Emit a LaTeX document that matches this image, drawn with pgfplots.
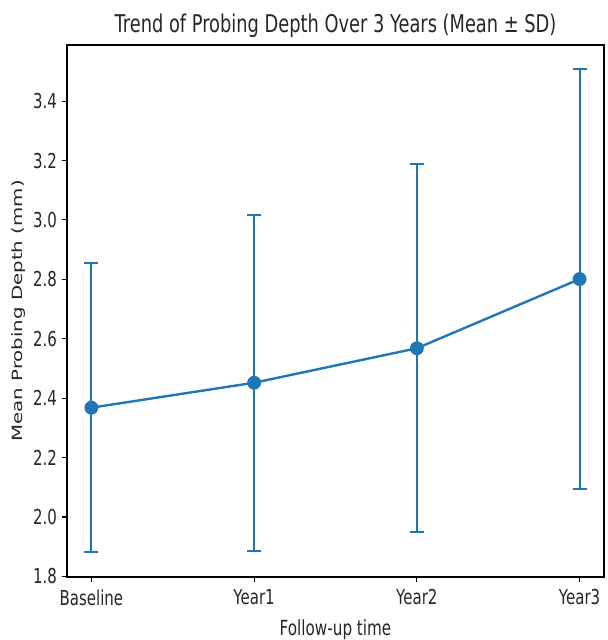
\documentclass[border=0pt]{standalone}
\usepackage{pgfplots}
\pgfplotsset{compat=1.18}
\usetikzlibrary{calc}
\usepackage{fontspec}
\setmainfont{DejaVu Sans}[FakeStretch=0.73]
\newfontfamily\ylfont{DejaVu Sans}[FakeStretch=1.4]
\definecolor{tabblue}{HTML}{1F77B4}
\definecolor{txt}{HTML}{262626}
\begin{document}
\begin{tikzpicture}
\begin{axis}[
  name=a,
  scale only axis,
  width=402.75pt, height=399pt,
  xmin=-0.15, xmax=3.15,
  ymin=1.798, ymax=3.589,
  xtick={0,1,2,3},
  xticklabels={Baseline,Year1,Year2,Year3},
  ytick={1.8,2.0,2.2,2.4,2.6,2.8,3.0,3.2,3.4},
  yticklabel style={/pgf/number format/.cd,fixed,fixed zerofill,precision=1},
  /pgf/number format/assume math mode=true,
  tick label style={font=\fontsize{15.4}{17}\selectfont, text=txt},
  xticklabel style={yshift=-2pt},
  tick align=outside,
  tick pos=left,
  major tick length=4pt,
  major tick style={line width=0.8pt, color=black},
  axis line style={line width=0.8pt},
  title={Trend of Probing Depth Over 3 Years (Mean ± SD)},
  title style={font=\fontsize{18.3}{20}\selectfont, text=txt, yshift=-4pt},
  xlabel={Follow-up time},
  xlabel style={font=\fontsize{15.6}{17}\selectfont, text=txt, yshift=-4pt},
  ylabel={\ylfont Mean Probing Depth (mm)},
  ylabel style={font=\fontsize{10.6}{14}\selectfont, text=txt, yshift=-1pt},
]
\addplot[
  color=tabblue, line width=1.8pt,
  mark=*, mark size=4.3pt,
  error bars/.cd, y dir=both, y explicit,
  error bar style={line width=1.5pt, color=tabblue},
  error mark options={rotate=90, mark size=5.25pt, line width=1.5pt, color=tabblue},
] table[x=x, y=y, y error=e] {
x y e
0 2.368 0.486
1 2.452 0.565
2 2.568 0.620
3 2.801 0.707
};
\end{axis}
\pgfresetboundingbox
\path ($(a.south west)+(-50.25pt,-47.25pt)$) rectangle ($(a.north east)+(3pt,33.75pt)$);
\end{tikzpicture}
\end{document}
